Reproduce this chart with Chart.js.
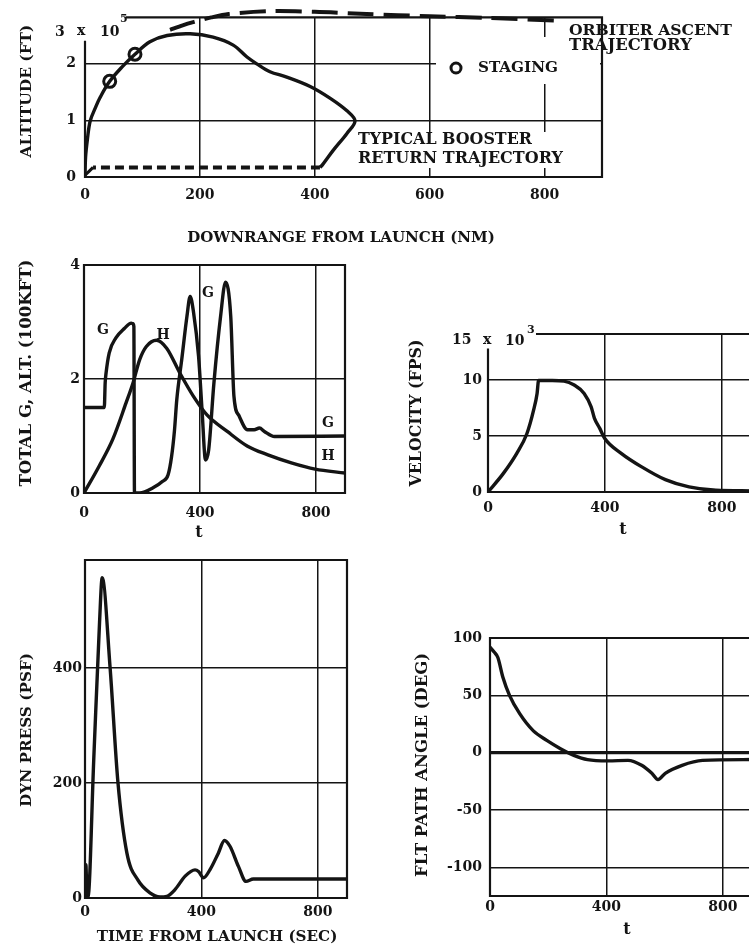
<!DOCTYPE html>
<html><head><meta charset="utf-8">
<script src="https://cdn.jsdelivr.net/npm/chart.js@4.4.1/dist/chart.umd.min.js"></script>
<style>
html,body{margin:0;padding:0;background:#fff;overflow:hidden;width:749px;height:948px}
canvas{position:absolute;left:0;top:0}
</style></head><body>
<canvas id="c1" width="760" height="948"></canvas>
<canvas id="c2" width="760" height="948"></canvas>
<canvas id="c3" width="760" height="948"></canvas>
<canvas id="c4" width="760" height="948"></canvas>
<canvas id="c5" width="760" height="948"></canvas>
<script>
// ---------- DATA ----------
// Panel 1: altitude (1e5 ft) vs downrange (NM)
const downrangeTicks = [0, 200, 400, 600, 800];
const altitudeTicks = [0, 1, 2];
const boosterRange = [0, 1, 4, 9, 18, 26, 43, 65, 87, 113, 143, 183, 223, 258, 282, 299, 322, 350, 392, 427, 456, 470, 456, 432, 413, 409];
const boosterAlt   = [0, 0.35, 0.65, 0.99, 1.22, 1.40, 1.69, 1.95, 2.17, 2.39, 2.50, 2.53, 2.47, 2.33, 2.12, 2.00, 1.86, 1.77, 1.60, 1.39, 1.17, 0.99, 0.77, 0.47, 0.21, 0.17];
const flybackRange = [409, 14];
const flybackAlt   = [0.17, 0.17];
const landingRange = [14, 0];
const landingAlt   = [0.17, 0.03];
const stagingRange = [43, 87];
const stagingAlt   = [1.69, 2.17];
const orbiterRange = [148, 170, 190, 220, 250, 320, 400, 490, 600, 700, 830];
const orbiterAlt   = [2.60, 2.68, 2.74, 2.82, 2.88, 2.93, 2.92, 2.88, 2.84, 2.81, 2.76];

// Shared time ticks (sec)
const timeTicks = [0, 400, 800];

// Panel 2: total G and altitude (100 kft) vs time
const gAltTicks = [0, 2, 4];
const gTime = [0, 70, 73, 76, 87, 110, 140, 163, 169, 172, 174, 192, 238, 270, 290, 302, 312, 320, 337, 355, 366, 378, 395, 407, 419, 430, 448, 471, 488, 506, 517, 535, 564, 587, 605, 622, 657, 900];
const gLoad = [1.5, 1.5, 1.93, 2.1, 2.46, 2.72, 2.89, 2.98, 2.97, 2.92, 0, 0, 0.09, 0.2, 0.32, 0.64, 1.1, 1.64, 2.34, 3.1, 3.45, 3.16, 2.4, 1.46, 0.58, 0.76, 1.93, 3.1, 3.7, 3.1, 1.7, 1.35, 1.11, 1.11, 1.14, 1.08, 0.99, 1.0];
const hTime = [0, 52, 99, 145, 169, 192, 215, 250, 285, 331, 378, 424, 494, 564, 634, 715, 797, 900];
const hAlt  = [0, 0.47, 0.94, 1.58, 1.93, 2.34, 2.57, 2.68, 2.54, 2.1, 1.69, 1.37, 1.08, 0.82, 0.67, 0.53, 0.42, 0.35];

// Panel 3: velocity (1e3 fps) vs time
const velocityTicks = [0, 5, 10];
const vTime = [0, 52, 98, 133, 156, 168, 173, 179, 220, 260, 295, 329, 353, 364, 382, 399, 457, 526, 607, 688, 780, 900];
const vVel  = [0, 1.64, 3.43, 5.2, 7.3, 8.8, 9.95, 9.95, 9.95, 9.9, 9.55, 8.8, 7.6, 6.6, 5.7, 4.8, 3.43, 2.24, 1.1, 0.45, 0.15, 0.1];

// Panel 4: dynamic pressure (psf) vs time
const pressTicks = [0, 200, 400];
const qTime  = [0, 3, 7, 10, 30, 50, 59, 86, 113, 144, 182, 223, 258, 281, 309, 344, 378, 390, 407, 429, 458, 479, 498, 527, 553, 578, 900];
const qPress = [0, 58, 0, 0, 240, 480, 557, 402, 202, 78, 31, 9, 2, 3, 14.5, 38, 49, 46, 35, 49, 78, 100, 90, 55, 29, 33, 33];

// Panel 5: flight path angle (deg) vs time
const angleTicks = [-100, -50, 0, 50, 100];
const fTime  = [0, 15, 27, 44, 67, 102, 149, 195, 242, 288, 335, 405, 474, 521, 556, 577, 602, 660, 730, 900];
const fAngle = [92, 87.5, 83, 66, 50, 34, 19, 10.7, 3.5, -2.3, -6.1, -7.2, -6.7, -11, -18, -23.5, -18, -11, -6.7, -6];

// ---------- HELPERS ----------
const INK = '#141414';
const FAMILY = '"DejaVu Serif", "Liberation Serif", serif';
const CW = 760, CH = 948;
const pts = (xs, ys) => xs.map((x, i) => ({x, y: ys[i]}));
function line(xs, ys, extra) {
  return Object.assign({data: pts(xs, ys), showLine: true, borderColor: INK, borderWidth: 3.4,
    pointRadius: 0, fill: false, cubicInterpolationMode: 'monotone'}, extra || {});
}
function axis(min, max, ticks, size, pad, zeroBold) {
  return {
    type: 'linear', min, max,
    afterBuildTicks: s => { s.ticks = ticks.map(v => ({value: v})); },
    afterFit: s => { if (s.isHorizontal()) s.height = size; else s.width = size; },
    ticks: {color: INK, font: {family: FAMILY, weight: 'bold', size: 14}, padding: pad, autoSkip: false, maxRotation: 0},
    grid: {drawTicks: false,
      color: c => (c.tick && c.tick.value === min) ? 'rgba(0,0,0,0)' : INK,
      lineWidth: c => (zeroBold && c.tick && c.tick.value === 0) ? 3.2 : 1.5},
    border: {display: false}
  };
}
function drawText(ctx, o) {
  ctx.save();
  ctx.fillStyle = INK;
  let size = o.size || 14;
  ctx.font = `bold ${size}px ${FAMILY}`;
  if (o.w) { const m = ctx.measureText(o.t).width; size = size * o.w / m; ctx.font = `bold ${size}px ${FAMILY}`; }
  ctx.textBaseline = 'middle';
  ctx.textAlign = o.align || 'center';
  ctx.translate(o.x, o.y);
  if (o.rot) ctx.rotate(-Math.PI / 2);
  ctx.fillText(o.t, 0, 0);
  ctx.restore();
}
const decor = {
  id: 'decor',
  beforeDatasetsDraw(chart) {
    const o = chart.options.plugins.decor; if (!o) return;
    const {ctx, chartArea: a} = chart; const x = chart.scales.x, y = chart.scales.y;
    ctx.save();
    ctx.fillStyle = '#fff';
    (o.boxes || []).forEach(b => ctx.fillRect(b[0], b[1], b[2] - b[0], b[3] - b[1]));
    ctx.strokeStyle = INK; ctx.lineWidth = 2.2; ctx.lineCap = 'square';
    const leftTop = o.leftTo != null ? y.getPixelForValue(o.leftTo) : a.top;
    const topLeft = o.topFrom != null ? x.getPixelForValue(o.topFrom) : a.left;
    ctx.beginPath();
    ctx.moveTo(a.left, leftTop); ctx.lineTo(a.left, a.bottom); ctx.lineTo(a.right, a.bottom);
    ctx.lineTo(a.right, a.top); ctx.lineTo(topLeft, a.top);
    ctx.stroke();
    ctx.restore();
  },
  afterDatasetsDraw(chart) {
    const o = chart.options.plugins.decor; if (!o) return;
    const ctx = chart.ctx;
    (o.texts || []).forEach(t => drawText(ctx, t));
    (o.circles || []).forEach(c => { ctx.save(); ctx.strokeStyle = INK; ctx.lineWidth = 3; ctx.beginPath(); ctx.arc(c[0], c[1], c[2], 0, Math.PI * 2); ctx.stroke(); ctx.restore(); });
  }
};
function make(id, area, xs, ys, datasets, dec) {
  const [L, T, R, B] = area, Wy = 50, Hx = 30;
  return new Chart(document.getElementById(id), {
    type: 'scatter',
    data: {datasets},
    options: {
      responsive: false, animation: false, devicePixelRatio: 1,
      layout: {autoPadding: false, padding: {left: L - Wy, top: T, right: CW - R, bottom: CH - B - Hx}},
      scales: {x: Object.assign(xs, {afterFit: s => { s.height = Hx; }}), y: Object.assign(ys, {afterFit: s => { s.width = Wy; }})},
      plugins: {legend: {display: false}, tooltip: {enabled: false}, decor: dec}
    },
    plugins: [decor]
  });
}
const ROT = true;

// ---------- PANEL 1 ----------
make('c1', [85, 15, 602, 177],
  axis(0, 900, downrangeTicks, 30, 10), axis(0, 2.82, altitudeTicks, 50, 9),
  [
    line(boosterRange, boosterAlt, {cubicInterpolationMode: 'default', tension: 0.35}),
    line(flybackRange, flybackAlt, {borderDash: [9, 5], borderWidth: 4}),
    line(landingRange, landingAlt, {borderWidth: 3}),
    line(orbiterRange, orbiterAlt, {borderDash: [26, 10], borderWidth: 4, clip: false, cubicInterpolationMode: 'default', tension: 0.3}),
    {data: pts(stagingRange, stagingAlt), showLine: false, pointRadius: 6, pointBackgroundColor: '#fff', pointBorderColor: INK, pointBorderWidth: 3}
  ],
  {leftTo: 2.39, topFrom: 73,
   boxes: [[436, 37, 600, 84], [355, 132, 567, 168]],
   texts: [
     {t: 'ALTITUDE (FT)', x: 27, y: 91, w: 133, rot: ROT},
     {t: 'DOWNRANGE FROM LAUNCH (NM)', x: 341, y: 238, w: 308},
     {t: '3', x: 55, y: 32, align: 'left'}, {t: 'x', x: 77, y: 31, align: 'left'}, {t: '10', x: 100, y: 32, align: 'left'},
     {t: '5', x: 120, y: 19, size: 11, align: 'left'},
     {t: 'ORBITER ASCENT', x: 569, y: 31, w: 163, align: 'left'},
     {t: 'TRAJECTORY', x: 569, y: 46, w: 123, align: 'left'},
     {t: 'STAGING', x: 478, y: 68, w: 80, align: 'left'},
     {t: 'TYPICAL BOOSTER', x: 358, y: 140, w: 174, align: 'left'},
     {t: 'RETURN TRAJECTORY', x: 358, y: 159, w: 205, align: 'left'}
   ],
   circles: [[456, 68, 5]]});

// ---------- PANEL 2 ----------
make('c2', [84, 265, 345, 493],
  axis(0, 900, timeTicks, 30, 12), axis(0, 4, gAltTicks, 50, 4),
  [line(gTime, gLoad), line(hTime, hAlt)],
  {texts: [
    {t: 'TOTAL G, ALT. (100KFT)', x: 27, y: 373, w: 227, rot: ROT},
    {t: 'G', x: 103, y: 330}, {t: 'H', x: 163, y: 335}, {t: 'G', x: 208, y: 293},
    {t: 'G', x: 328, y: 423}, {t: 'H', x: 328, y: 456},
    {t: 't', x: 199, y: 533, size: 16}
  ]});

// ---------- PANEL 3 ----------
make('c3', [488, 334, 751, 492],
  axis(0, 900, timeTicks, 30, 8), axis(0, 14.1, velocityTicks, 50, 6),
  [line(vTime, vVel)],
  {leftTo: 12.7, topFrom: 168,
   texts: [
    {t: 'VELOCITY (FPS)', x: 417, y: 413, w: 147, rot: ROT},
    {t: '15', x: 452, y: 340, align: 'left'}, {t: 'x', x: 483, y: 340, align: 'left'}, {t: '10', x: 505, y: 341, align: 'left'},
    {t: '3', x: 527, y: 330, size: 11, align: 'left'},
    {t: 't', x: 623, y: 530, size: 16}
  ]});

// ---------- PANEL 4 ----------
make('c4', [85, 560, 347, 898],
  axis(0, 900, timeTicks, 30, 6), axis(0, 588, pressTicks, 50, 3),
  [line(qTime, qPress)],
  {texts: [
    {t: 'DYN PRESS (PSF)', x: 27, y: 730, w: 154, rot: ROT},
    {t: 'TIME FROM LAUNCH (SEC)', x: 217, y: 937, w: 241}
  ]});

// ---------- PANEL 5 ----------
make('c5', [490, 638, 752, 896],
  axis(0, 900, timeTicks, 30, 3), axis(-125, 100, angleTicks, 50, 8, true),
  [line(fTime, fAngle)],
  {texts: [
    {t: 'FLT PATH ANGLE (DEG)', x: 423, y: 765, w: 224, rot: ROT},
    {t: 't', x: 627, y: 930, size: 16}
  ]});
</script>
</body></html>
